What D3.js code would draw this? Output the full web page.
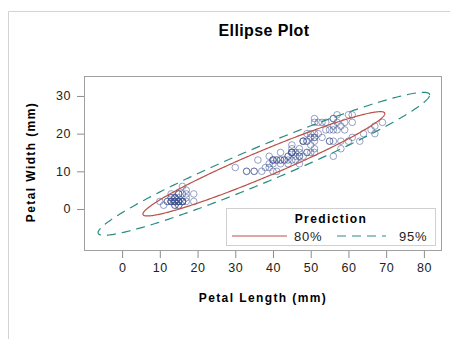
<!DOCTYPE html>
<html>
<head>
<meta charset="utf-8">
<script src="https://cdn.jsdelivr.net/npm/d3@7"></script>
<style>
  body { margin: 0; background: #fff; }
  text { font-family: "Liberation Sans", Arial, sans-serif; fill: #000; }
</style>
</head>
<body>
<div id="chart"></div>
<script>
// petal length / petal width (mm), 150 flowers
var petalLength = [
  14,14,13,15,14,17,14,15,14,15,15,16,14,11,12,15,13,14,17,15,17,15,10,17,19,16,16,15,14,16,16,15,15,14,15,12,13,14,13,15,13,13,13,16,19,14,16,14,15,14,
  47,45,49,40,46,45,47,33,46,39,35,42,40,47,36,44,45,41,45,39,48,40,49,47,43,44,48,50,45,35,38,37,39,51,45,45,47,44,41,40,44,46,40,33,42,42,42,43,30,41,
  60,51,59,56,58,66,45,63,58,61,51,53,55,50,51,53,55,67,69,50,57,49,67,49,57,60,48,49,56,58,61,64,56,51,56,61,56,55,48,54,56,51,51,59,57,52,50,52,54,51
];
var petalWidth = [
  2,2,2,2,2,4,3,2,2,1,2,2,1,1,2,4,4,3,3,3,2,4,2,5,2,2,4,2,2,2,2,4,1,2,2,2,2,1,2,2,3,3,2,6,4,3,2,2,2,2,
  14,15,15,13,15,13,16,10,13,14,10,15,10,14,13,14,15,10,15,11,18,13,15,12,13,14,14,17,15,10,11,10,12,16,15,16,15,13,13,13,12,14,12,10,13,12,13,13,11,13,
  25,19,21,18,22,21,17,18,18,25,20,19,21,20,24,23,18,22,23,15,23,20,20,18,21,18,18,18,21,16,19,20,22,15,14,23,24,18,18,21,24,23,19,23,25,23,19,20,23,18
];
var levels = [0.80, 0.95];
var levelLabels = ["80%", "95%"];
var xTicks = [0, 10, 20, 30, 40, 50, 60, 70, 80];
var yTicks = [0, 10, 20, 30];

var W = 450, H = 339;
var pLeft = 84, pTop = 76, pRight = 442, pBottom = 251;

var svg = d3.select("#chart").append("svg")
    .attr("width", W).attr("height", H);

// page border (top and left edges visible)
svg.append("path")
    .attr("d", "M8.5," + H + "V11.5H" + W)
    .attr("fill", "none").attr("stroke", "#d3d3d3");

var x = d3.scaleLinear().domain([-10.1, 84.8]).range([pLeft, pRight]);
var y = d3.scaleLinear().domain([-11.15, 35.3]).range([pBottom, pTop]);

svg.append("text")
    .attr("x", 264).attr("y", 36)
    .attr("text-anchor", "middle")
    .style("font-size", "16px").style("font-weight", "bold")
    .style("letter-spacing", "0.4px")
    .text("Ellipse Plot");

// axes
var xAxis = svg.append("g")
    .attr("transform", "translate(0," + pBottom + ")")
    .call(d3.axisBottom(x).tickValues(xTicks).tickSize(7).tickPadding(5));
var yAxis = svg.append("g")
    .attr("transform", "translate(" + pLeft + ",0)")
    .call(d3.axisLeft(y).tickValues(yTicks).tickSize(7).tickPadding(6));
[xAxis, yAxis].forEach(function(g) {
  g.select(".domain").remove();
  g.selectAll(".tick line").attr("stroke", "#8c8c8c");
  g.selectAll(".tick text")
    .style("font-family", "'Liberation Sans', Arial, sans-serif")
    .style("font-size", "12.5px").style("fill", "#222")
    .style("letter-spacing", "0.5px");
});

svg.append("rect")
    .attr("x", pLeft + 0.5).attr("y", pTop + 0.5)
    .attr("width", pRight - pLeft - 1).attr("height", pBottom - pTop - 1)
    .attr("fill", "none").attr("stroke", "#a0a0a0");

svg.append("text")
    .attr("x", 263).attr("y", 302)
    .attr("text-anchor", "middle")
    .style("font-size", "12px").style("font-weight", "bold")
    .style("letter-spacing", "1.4px")
    .text("Petal Length (mm)");

svg.append("text")
    .attr("transform", "translate(35," + 162 + ") rotate(-90)")
    .attr("text-anchor", "middle")
    .style("font-size", "12px").style("font-weight", "bold")
    .style("letter-spacing", "1.4px")
    .text("Petal Width (mm)");

// prediction ellipses from mean and covariance
var n = petalLength.length;
var mx = d3.mean(petalLength), my = d3.mean(petalWidth);
var sxx = 0, syy = 0, sxy = 0;
for (var i = 0; i < n; i++) {
  var dx = petalLength[i] - mx, dy = petalWidth[i] - my;
  sxx += dx * dx; syy += dy * dy; sxy += dx * dy;
}
sxx /= (n - 1); syy /= (n - 1); sxy /= (n - 1);
var l11 = Math.sqrt(sxx), l21 = sxy / l11, l22 = Math.sqrt(syy - l21 * l21);

function radius(p) {
  // F(2, n-2) quantile, scaled for a prediction region
  var m = n - 2;
  var f = (m / 2) * (Math.pow(1 - p, -2 / m) - 1);
  return Math.sqrt(2 * (n + 1) * (n - 1) / (n * (n - 2)) * f);
}

var angles = d3.range(0, 2 * Math.PI, Math.PI / 180);
var ellipseLine = d3.line()
    .x(function(d) { return x(d[0]); })
    .y(function(d) { return y(d[1]); })
    .curve(d3.curveLinearClosed);

var styles = [
  { color: "#bb5048", dash: null },
  { color: "#2a8c80", dash: "9,6" }
];

svg.append("defs").append("clipPath").attr("id", "clip")
  .append("rect").attr("x", pLeft + 1).attr("y", pTop + 1)
  .attr("width", pRight - pLeft - 2).attr("height", pBottom - pTop - 2);
var inner = svg.append("g").attr("clip-path", "url(#clip)");

inner.selectAll("circle")
  .data(d3.range(n))
  .enter().append("circle")
    .attr("cx", function(i) { return x(petalLength[i]); })
    .attr("cy", function(i) { return y(petalWidth[i]); })
    .attr("r", 3.3)
    .attr("fill", "none")
    .attr("stroke", "#445694")
    .attr("stroke-opacity", 0.55);

levels.forEach(function(p, k) {
  var c = radius(p);
  var pts = angles.map(function(t) {
    var u = c * Math.cos(t), v = c * Math.sin(t);
    return [mx + l11 * u, my + l21 * u + l22 * v];
  });
  inner.append("path")
    .datum(pts)
    .attr("d", ellipseLine)
    .attr("fill", "none")
    .attr("stroke", styles[k].color)
    .attr("stroke-width", 1.2)
    .attr("stroke-dasharray", styles[k].dash);
});

// legend
var lg = svg.append("g");
lg.append("rect")
    .attr("x", 226.5).attr("y", 208.5).attr("width", 209).attr("height", 37)
    .attr("fill", "#fff").attr("stroke", "#d0d0d0");
lg.append("text")
    .attr("x", 331).attr("y", 222.5).attr("text-anchor", "middle")
    .style("font-size", "12px").style("font-weight", "bold")
    .style("letter-spacing", "1.4px")
    .text("Prediction");
var lx = [[232, 287, 294], [337, 386, 399]];
levels.forEach(function(p, k) {
  lg.append("line")
    .attr("x1", lx[k][0]).attr("x2", lx[k][1])
    .attr("y1", 236).attr("y2", 236)
    .attr("stroke", styles[k].color).attr("stroke-width", 1.2)
    .attr("stroke-dasharray", styles[k].dash);
  lg.append("text")
    .attr("x", lx[k][2]).attr("y", 240.5)
    .style("font-size", "13px").style("fill", "#222")
    .style("letter-spacing", "0.8px")
    .text(levelLabels[k]);
});
</script>
</body>
</html>
